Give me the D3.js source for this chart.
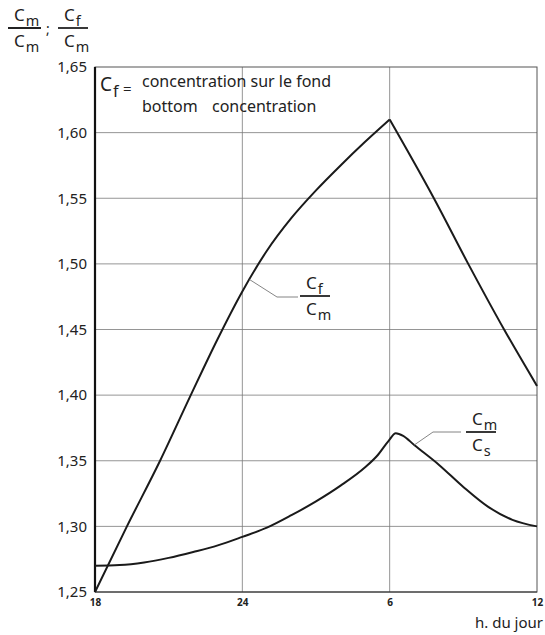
<!DOCTYPE html>
<html>
  <head>
    <meta charset="utf-8">
    <title>Concentration ratios</title>
    <script src="https://d3js.org/d3.v7.min.js"></script>
    <style>
    body { margin: 0; background: #fff; }
    text { font-family: "Noto Sans", "DejaVu Sans", sans-serif; fill: #222; }
    .grid-line { stroke: #7a7a7a; stroke-width: 0.8px; }
    .curve { fill: none; stroke: #1a1a1a; stroke-width: 2px; }
    .leader { fill: none; stroke: #777; stroke-width: 0.9px; }
    </style>
  </head>
  <body>
    <script>
      // ---- data (hours past 18h run on past midnight: 30 = 6h, 36 = 12h) ----
      const xTicks = [18, 24, 30, 36];
      const xTickLabels = ["18", "24", "6", "12"];
      const yTicks = [1.25, 1.30, 1.35, 1.40, 1.45, 1.50, 1.55, 1.60, 1.65];

      // Cf/Cm, split at the sharp peak at 6h
      const cfHoursUp = [18, 19.3, 20.65, 21.9, 23, 24, 25, 26, 27, 28, 29, 30];
      const cfValuesUp = [1.25, 1.30, 1.35, 1.40, 1.443, 1.479, 1.51, 1.535, 1.556, 1.575, 1.593, 1.61];
      const cfHoursDown = [30, 31.8, 33.2, 34.66, 36];
      const cfValuesDown = [1.61, 1.55, 1.50, 1.45, 1.407];

      // Cm/Cs
      const cmHours = [18, 19, 20, 21, 22, 23, 24, 25, 26, 27, 28, 29, 29.5, 29.95, 30.25, 30.55, 31, 32, 33, 34, 35, 36];
      const cmValues = [1.27, 1.2705, 1.2725, 1.276, 1.2805, 1.2855, 1.292, 1.299, 1.3085, 1.319, 1.331, 1.345, 1.354, 1.365, 1.371, 1.369, 1.362, 1.347, 1.330, 1.315, 1.305, 1.30];

      const width = 545;
      const height = 635;
      const mLeft = 95, mRight = 537, mTop = 67, mBottom = 592;

      const svg = d3.select("body")
        .append("svg")
          .attr("width", width)
          .attr("height", height);

      const xScale = d3.scaleLinear().domain([18, 36]).range([mLeft, mRight]);
      const yScale = d3.scaleLinear().domain([1.25, 1.65]).range([mBottom, mTop]);

      // grid lines
      svg.append("g").selectAll("line.h")
        .data(yTicks.slice(1, -1))
        .enter().append("line")
          .classed("grid-line", true)
          .attr("x1", mLeft).attr("x2", mRight)
          .attr("y1", d => yScale(d)).attr("y2", d => yScale(d));

      svg.append("g").selectAll("line.v")
        .data(xTicks.slice(1, -1))
        .enter().append("line")
          .classed("grid-line", true)
          .attr("x1", d => xScale(d)).attr("x2", d => xScale(d))
          .attr("y1", mTop).attr("y2", mBottom);

      // frame: thick left axis, thinner others
      svg.append("rect")
        .attr("x", mLeft).attr("y", mTop)
        .attr("width", mRight - mLeft).attr("height", mBottom - mTop)
        .attr("fill", "none").attr("stroke", "#555").attr("stroke-width", 1);
      svg.append("line")
        .attr("x1", mLeft).attr("x2", mLeft).attr("y1", mTop).attr("y2", mBottom)
        .attr("stroke", "#111").attr("stroke-width", 2.2);
      svg.append("line")
        .attr("x1", mLeft).attr("x2", mRight).attr("y1", mBottom).attr("y2", mBottom)
        .attr("stroke", "#333").attr("stroke-width", 1.2);

      // axes (labels only, grid does the rest)
      const yAxis = d3.axisLeft(yScale)
        .tickValues(yTicks)
        .tickSize(0)
        .tickPadding(8)
        .tickFormat(d => d3.format(".2f")(d).replace(".", ","));
      const gy = svg.append("g")
        .attr("transform", "translate(" + mLeft + ",0)")
        .call(yAxis);
      gy.select(".domain").remove();
      gy.selectAll("text")
        .style("font-size", "15px")
        .style("font-family", "'Noto Sans', sans-serif")
        .attr("fill", "#222");

      const xAxis = d3.axisBottom(xScale)
        .tickValues(xTicks)
        .tickSize(0)
        .tickPadding(7)
        .tickFormat((d, i) => xTickLabels[i]);
      const gx = svg.append("g")
        .attr("transform", "translate(0," + mBottom + ")")
        .call(xAxis);
      gx.select(".domain").remove();
      gx.selectAll("text")
        .style("font-size", "10px")
        .style("font-family", "'Noto Sans', sans-serif")
        .style("font-weight", "bold")
        .attr("fill", "#222");

      svg.append("text")
        .attr("x", 543).attr("y", 628)
        .attr("text-anchor", "end")
        .style("font-size", "15px")
        .text("h. du jour");

      // curves
      const line = d3.line()
        .x(d => xScale(d[0]))
        .y(d => yScale(d[1]))
        .curve(d3.curveMonotoneX);

      svg.append("path").classed("curve", true)
        .attr("d", line(d3.zip(cfHoursUp, cfValuesUp)));
      svg.append("path").classed("curve", true)
        .attr("d", line(d3.zip(cfHoursDown, cfValuesDown)));
      svg.append("path").classed("curve", true)
        .attr("d", line(d3.zip(cmHours, cmValues)));

      // a C with subscript, stacked as a fraction
      function cSub(g, x, y, sub, size) {
        const t = g.append("text").attr("x", x).attr("y", y).style("font-size", size + "px");
        t.append("tspan").text("C");
        t.append("tspan").attr("dx", 1).attr("dy", size * 0.3).style("font-size", (size * 0.85) + "px").text(sub);
        return t;
      }
      function fraction(x, y, top, bot, w) {
        const g = svg.append("g");
        cSub(g, x, y, top, 17);
        g.append("line")
          .attr("x1", x - 6).attr("x2", x - 6 + w)
          .attr("y1", y + 7).attr("y2", y + 7)
          .attr("stroke", "#222").attr("stroke-width", 1.8);
        cSub(g, x, y + 26, bot, 17);
      }

      // y axis title
      fraction(14, 21, "m", "m", 33);
      svg.append("text").attr("x", 46).attr("y", 34).style("font-size", "14px").text(";");
      fraction(64, 21, "f", "m", 30);

      // legend inside plot
      cSub(svg, 100, 91, "f", 19);
      svg.append("text").attr("x", 123).attr("y", 94).style("font-size", "15px").text("=");
      svg.append("text").attr("x", 142).attr("y", 87).style("font-size", "16px")
        .text("concentration sur le fond");
      svg.append("text").attr("x", 142).attr("y", 112).style("font-size", "16px").text("bottom");
      svg.append("text").attr("x", 212).attr("y", 112).style("font-size", "16px").text("concentration");

      // curve labels with leaders
      svg.append("path").classed("leader", true)
        .attr("d", d3.line()([[xScale(24.3), yScale(1.488)], [277, 297], [298, 297]]));
      fraction(306, 289, "f", "m", 30);

      svg.append("path").classed("leader", true)
        .attr("d", d3.line()([[xScale(31), yScale(1.362)], [433, 432], [461, 432]]));
      fraction(472, 425, "m", "s", 30);
    </script>
  </body>
</html>
